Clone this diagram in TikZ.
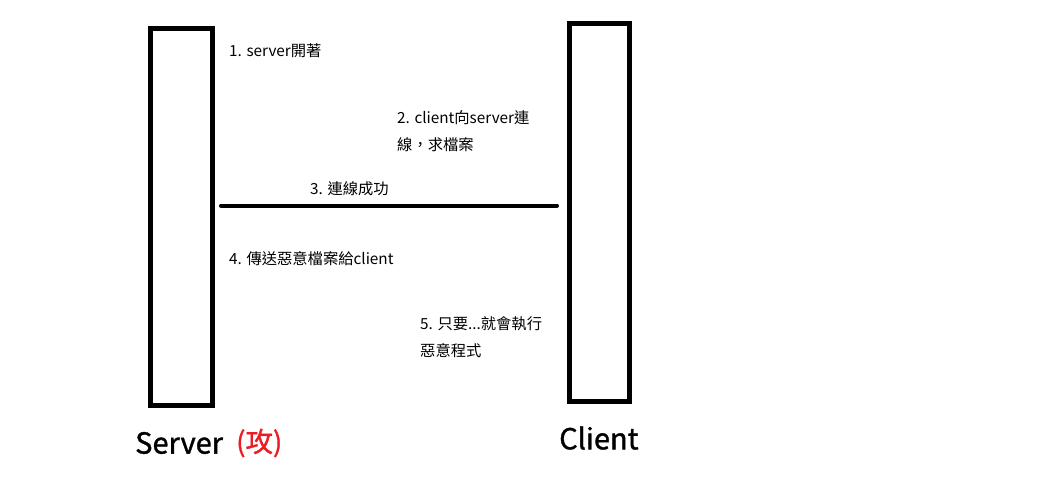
\documentclass[tikz,border=0pt]{standalone}
\usepackage{fontspec}
\setmainfont{Noto Sans CJK TC}
\newfontfamily\titlefont[FakeBold=1.2]{Noto Sans CJK TC}
\definecolor{paintred}{RGB}{237,28,36}
\begin{document}
\begin{tikzpicture}[x=1pt,y=-1pt,
  lifebox/.style={draw=black,line width=5pt,fill=none},
  note/.style={anchor=west,inner sep=0pt,font=\fontsize{15.3}{27}\selectfont,align=left},
  title/.style={anchor=west,inner sep=0pt,font=\titlefont\fontsize{29}{32}\selectfont}]
\useasboundingbox (0,0) rectangle (1061,495);
\draw[lifebox] (150.5,28.5) rectangle (212.5,405.5);
\draw[lifebox] (569.5,23.5) rectangle (629.5,401.5);
\coordinate (la) at (221,205.5);
\coordinate (lb) at (557,205.5);
\draw[line width=4pt,line cap=round] (la) -- (lb);
\node[note] (n1) at (229,51) {1. server開著};
\node[note,anchor=north west] (n2) at (397,110) {2. client向server連\\線，求檔案};
\node[note] (n3) at (310,189) {3. 連線成功};
\node[note] (n4) at (229,259) {4. 傳送惡意檔案給client};
\node[note,anchor=north west] (n5) at (420,316) {5. 只要...就會執行\\惡意程式};
\node[title] (srv) at (135,443) {Server};
\node[title,text=paintred,font=\titlefont\fontsize{27.5}{30}\selectfont] (atk) at (236,443) {(攻)};
\node[title] (cli) at (559,438) {Client};
\end{tikzpicture}
\end{document}
